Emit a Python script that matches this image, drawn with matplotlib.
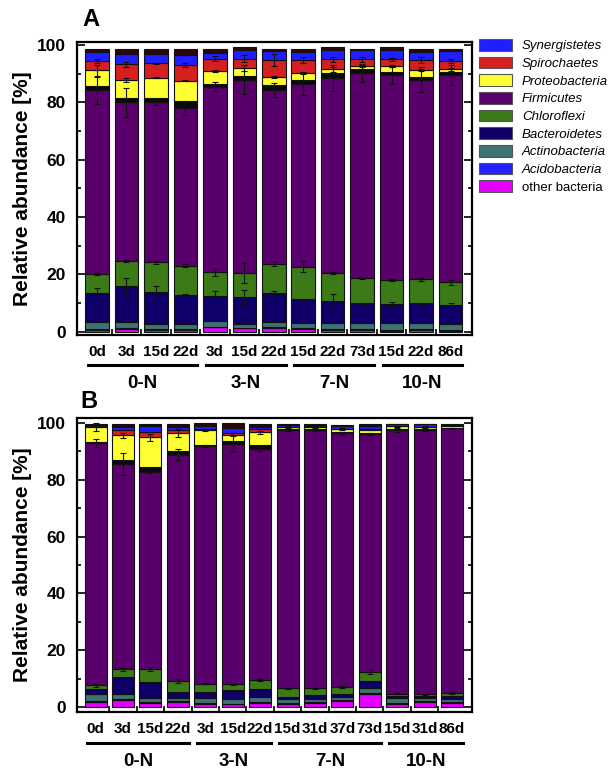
import numpy as np
import matplotlib
matplotlib.use('Agg')
import matplotlib.pyplot as plt
from matplotlib.patches import Patch
from matplotlib.lines import Line2D
import matplotlib.transforms as mtransforms

plt.rcParams['font.family'] = ['Liberation Sans', 'DejaVu Sans']

# ---- panel A data (stack order bottom -> top) ----
a_labels = ['0d', '3d', '15d', '22d', '3d', '15d', '22d', '15d', '22d', '73d', '15d', '22d', '86d']
a_groups = [('0-N', 0, 3), ('3-N', 4, 6), ('7-N', 7, 9), ('10-N', 10, 12)]
a_other = [0.5, 0.9, 0.6, 0.6, 1.5, 1.2, 1.2, 1.0, 0.8, 0.5, 0.4, 0.5, 0.3]
a_acido = [0.5, 0.4, 0.3, 0.3, 0.3, 0.2, 0.4, 0.4, 0.3, 0.4, 0.4, 0.4, 0.5]
a_actino = [2.5, 2.0, 1.8, 1.8, 2.0, 1.2, 1.7, 1.5, 2.0, 2.0, 2.3, 2.0, 1.8]
a_bactero = [10.2, 12.7, 11.3, 10.1, 8.8, 9.6, 10.4, 8.4, 7.7, 7.0, 6.6, 7.0, 6.7]
a_chloro = [6.5, 8.7, 10.2, 10.2, 8.1, 8.4, 10.1, 11.4, 9.8, 8.7, 8.3, 8.4, 7.9]
a_firmi = [64.0, 55.3, 55.8, 55.0, 64.8, 67.4, 60.5, 63.9, 68.0, 71.7, 71.5, 69.7, 72.3]
a_minor = [1.5, 1.5, 1.4, 2.5, 1.1, 1.2, 1.7, 1.2, 1.5, 1.2, 1.2, 1.0, 1.2]
a_proteo = [5.5, 6.3, 7.3, 7.1, 4.4, 2.7, 3.0, 2.5, 1.4, 1.2, 2.0, 2.3, 0.9]
a_spiro = [3.3, 5.5, 4.9, 5.4, 4.3, 3.4, 5.8, 4.5, 3.5, 2.3, 2.3, 3.5, 2.9]
a_synerg = [3.0, 3.6, 3.3, 3.5, 2.1, 3.0, 3.1, 2.9, 3.3, 3.3, 3.3, 2.9, 3.4]
a_top = [1.0, 1.9, 1.9, 2.3, 1.4, 0.9, 0.9, 1.1, 0.9, 0.5, 0.9, 1.1, 0.9]
# error bars (sd) at top of segments
a_err_bactero = [1.7, 2.7, 2.0, 0.5, 1.8, 2.5, 0.5, 0.2, 2.5, 0.2, 0.8, 0.3, 0.7]
a_err_chloro = [0.4, 0.4, 0.5, 0.5, 1.2, 3.5, 1.0, 2.0, 0.4, 0.3, 0.3, 0.5, 0.8]
a_err_firmi = [4.6, 5.0, 1.0, 2.5, 1.5, 5.0, 2.5, 4.0, 4.5, 3.0, 3.0, 4.5, 3.5]
a_err_proteo = [2.0, 0.6, 0.2, 0.2, 0.3, 1.0, 0.3, 0.3, 1.0, 0.2, 0.3, 0.3, 0.5]
a_err_spiro = [0.8, 0.8, 0.3, 0.8, 0.8, 1.2, 2.0, 1.0, 1.0, 0.8, 0.5, 1.0, 0.8]

# ---- panel B data ----
b_labels = ['0d', '3d', '15d', '22d', '3d', '15d', '22d', '15d', '31d', '37d', '73d', '15d', '31d', '86d']
b_groups = [('0-N', 0, 3), ('3-N', 4, 6), ('7-N', 7, 10), ('10-N', 11, 13)]
b_other = [1.8, 2.6, 1.5, 1.8, 1.2, 0.9, 1.5, 1.2, 1.5, 2.1, 4.5, 1.2, 1.8, 1.5]
b_acido = [0.3, 0.3, 0.3, 0.3, 0.3, 0.3, 0.3, 0.3, 0.3, 0.3, 0.3, 0.3, 0.3, 0.3]
b_actino = [2.4, 1.5, 1.5, 1.2, 1.8, 1.5, 1.7, 1.4, 1.1, 1.1, 1.7, 1.8, 1.2, 1.1]
b_bactero = [1.7, 6.2, 5.3, 2.0, 2.0, 3.4, 2.7, 0.6, 1.2, 1.0, 2.6, 0.6, 0.6, 1.0]
b_chloro = [1.4, 2.6, 4.7, 3.9, 2.9, 1.8, 3.4, 3.0, 2.4, 2.6, 3.3, 0.8, 0.6, 1.0]
b_firmi = [85.3, 72.4, 69.6, 79.6, 83.6, 84.8, 81.2, 91.1, 91.2, 89.3, 83.7, 92.9, 93.1, 93.3]
b_minor = [0.5, 1.4, 1.6, 1.2, 0.6, 0.8, 1.6, 0.3, 0.3, 0.5, 0.5, 0.2, 0.2, 0.1]
b_proteo = [5.2, 8.6, 10.4, 6.5, 5.2, 2.4, 4.3, 0.7, 0.7, 1.0, 1.1, 1.0, 0.8, 0.8]
b_spiro = [0.2, 1.8, 2.0, 0.9, 0.3, 0.6, 1.3, 0.1, 0.1, 0.1, 0.3, 0.1, 0.1, 0.1]
b_synerg = [0.6, 1.1, 1.9, 1.1, 1.2, 1.7, 0.5, 0.6, 0.5, 1.0, 1.0, 0.6, 1.0, 0.2]
b_top = [0.3, 1.1, 0.8, 1.1, 0.8, 1.8, 1.1, 0.3, 0.3, 0.3, 0.5, 0.2, 0.0, 0.2]
b_err_chloro = [0.5, 0.6, 0.6, 0.8, 0.3, 0.3, 0.3, 0.3, 0.3, 0.3, 0.8, 0.3, 0.2, 0.2]
b_err_firmi = [1.5, 4.0, 0.6, 2.0, 0.3, 3.0, 0.8, 0.3, 0.4, 0.5, 0.3, 0.8, 0.3, 0.2]
b_err_proteo = [1.3, 1.0, 1.3, 1.5, 0.3, 0.5, 0.5, 0.2, 0.2, 0.2, 0.2, 0.2, 0.2, 0.2]

# colours / names, bottom -> top
names = ['other bacteria', 'Acidobacteria', 'Actinobacteria', 'Bacteroidetes', 'Chloroflexi',
         'Firmicutes', None, 'Proteobacteria', 'Spirochaetes', 'Synergistetes', None]
colors = ['#e600ff', '#2222ff', '#3f7373', '#0e0068', '#3b7a17',
          '#5a006c', '#0a0a0a', '#ffff33', '#d61f1f', '#1f1fff', '#2a0808']

fig = plt.figure(figsize=(6.13, 7.70), dpi=100)


def draw_panel(ax, series, errs, labels, groups, ylim):
    x = np.arange(len(labels))
    bottom = np.zeros(len(labels))
    tops = []
    for vals, c in zip(series, colors):
        vals = np.array(vals)
        ax.bar(x, vals, 0.8, bottom=bottom, color=c, edgecolor='#111111', linewidth=0.8, zorder=2)
        bottom = bottom + vals
        tops.append(bottom.copy())
    for idx, e in errs:
        ax.errorbar(x, tops[idx], yerr=e, fmt='none', ecolor='#111111', elinewidth=0.8,
                    capsize=2.5, capthick=0.8, zorder=3)
    ax.set_xlim(-0.68, len(labels) - 1 + 0.72)
    ax.set_ylim(*ylim)
    ax.set_yticks([0, 20, 40, 60, 80, 100])
    ax.set_yticks([10, 30, 50, 70, 90], minor=True)
    ax.set_xticks(x)
    ax.set_xticklabels(labels, fontsize=11, fontweight='bold')
    ax.set_xticks(x[:-1] + 0.5, minor=True)
    ax.tick_params(axis='x', which='major', length=0, pad=7)
    ax.tick_params(axis='x', which='minor', direction='in', length=4, width=1.2)
    ax.tick_params(axis='y', which='both', direction='in', right=True, width=1.2)
    ax.tick_params(axis='y', which='major', length=6, labelsize=12.5, pad=8)
    ax.tick_params(axis='y', which='minor', length=3)
    for t in ax.get_yticklabels():
        t.set_fontweight('bold')
    for s in ax.spines.values():
        s.set_linewidth(1.6)
    ax.set_ylabel('Relative abundance [%]', fontsize=15, fontweight='bold')
    ax.yaxis.set_label_coords(-0.113, 0.5)
    trans = mtransforms.blended_transform_factory(ax.transData, ax.transAxes)
    for name, i0, i1 in groups:
        ax.add_line(Line2D([i0 - 0.3, i1 + 0.4], [-0.104, -0.104], transform=trans,
                           color='black', linewidth=2.2, clip_on=False))
        ax.text((i0 + i1) / 2 + 0.05, -0.167, name, transform=trans, ha='center', va='center',
                fontsize=13.5, fontweight='bold')


axA = fig.add_axes([0.1256, 0.565, 0.644, 0.3805])
seriesA = [a_other, a_acido, a_actino, a_bactero, a_chloro, a_firmi, a_minor,
           a_proteo, a_spiro, a_synerg, a_top]
errsA = [(3, a_err_bactero), (4, a_err_chloro), (5, a_err_firmi), (7, a_err_proteo), (8, a_err_spiro)]
draw_panel(axA, seriesA, errsA, a_labels, a_groups, (-1.1, 101.1))

axB = fig.add_axes([0.1256, 0.0753, 0.644, 0.382])
seriesB = [b_other, b_acido, b_actino, b_bactero, b_chloro, b_firmi, b_minor,
           b_proteo, b_spiro, b_synerg, b_top]
errsB = [(4, b_err_chloro), (5, b_err_firmi), (7, b_err_proteo)]
draw_panel(axB, seriesB, errsB, b_labels, b_groups, (-1.8, 101.8))

fig.text(82 / 613, 1 - 20 / 770, 'A', fontsize=17, fontweight='bold', va='center', ha='left')
fig.text(80 / 613, 1 - 401 / 770, 'B', fontsize=17, fontweight='bold', va='center', ha='left')

# legend, top entry = top of stack
handles = []
for n, c in list(zip(names, colors))[::-1]:
    if n is None:
        continue
    handles.append(Patch(facecolor=c, edgecolor='#555555', linewidth=0.8, label=n))
leg = fig.legend(handles=handles, loc='upper left', bbox_to_anchor=(479 / 613, 1 - 39 / 770),
                 frameon=False, fontsize=9.5, handlelength=2.5, handleheight=1.0,
                 labelspacing=0.32, handletextpad=0.75, borderaxespad=0, borderpad=0)
for t in leg.get_texts():
    if t.get_text() != 'other bacteria':
        t.set_fontstyle('italic')

fig.savefig('out.png', dpi=100)
